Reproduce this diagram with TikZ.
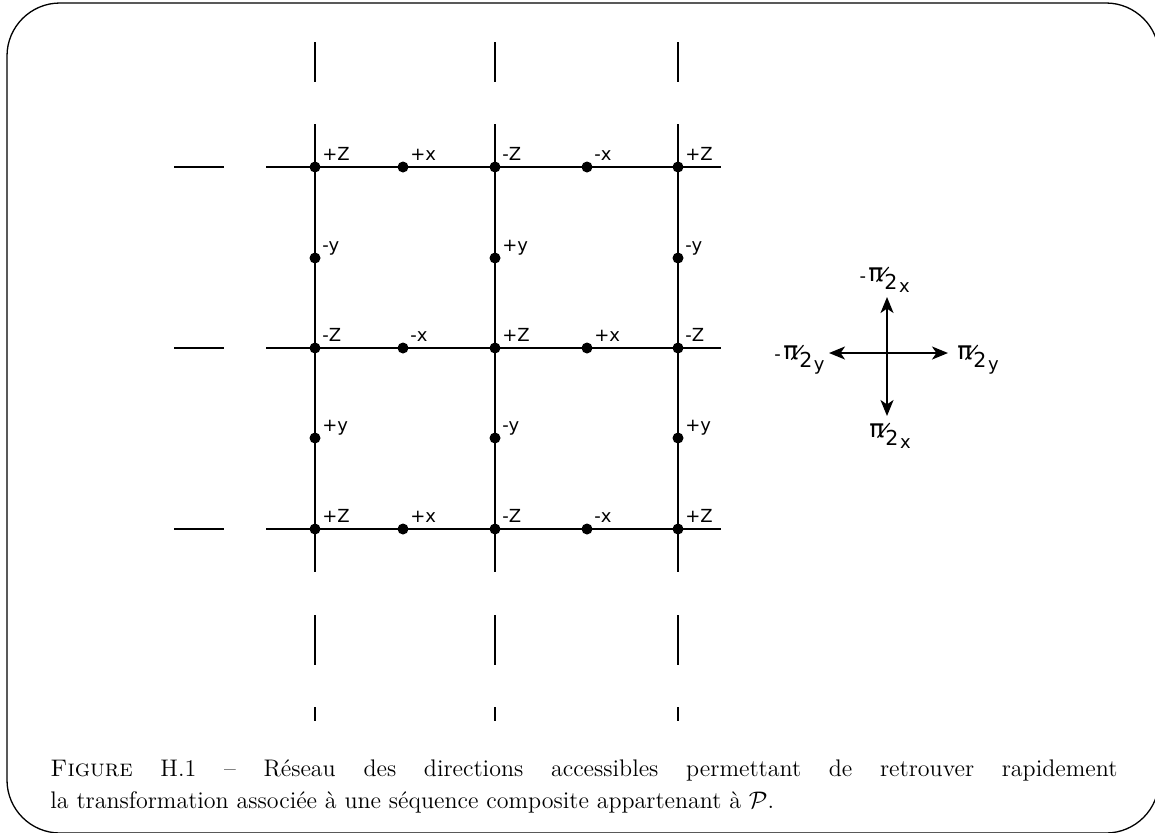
\documentclass[tikz,border=0pt]{standalone}
\usepackage{fontspec}
\usepackage{graphicx}
\newfontfamily\labfont{DejaVu Sans}
\usetikzlibrary{arrows.meta}
\newcommand{\pitwo}[1]{%
  \makebox[0pt][l]{\raisebox{4pt}{\fontsize{12.5}{12.5}\selectfont π}}%
  \makebox[0pt][l]{\hspace{3.8pt}\raisebox{3.5pt}{\rotatebox{50}{\rule{9.5pt}{0.6pt}}}}%
  \hspace{8pt}{\fontsize{10.3}{10.3}\selectfont 2}%
  \hspace{0.8pt}\raisebox{-1.5pt}{\fontsize{9}{9}\selectfont #1}}
\newcommand{\mpitwo}[1]{%
  \llap{\raisebox{3.5pt}{\fontsize{9}{9}\selectfont -}\hspace{1.2pt}}\pitwo{#1}}
\tikzset{
  gridline/.style={line width=1pt},
  dot/.style={circle, fill=black, inner sep=0pt, minimum size=5.5pt},
  lab/.style={anchor=base west, inner sep=0pt, font=\labfont\fontsize{9}{9}\selectfont},
  pilab/.style={inner sep=0pt, font=\labfont},
  arr/.style={line width=1pt, -{Stealth[length=8pt,width=6.5pt,inset=2.2pt]}},
  frame/.style={line width=0.65pt, rounded corners=26.5pt},
  captxt/.style={anchor=base west, inner sep=0pt, font=\fontsize{12}{16}\selectfont},
}
\begin{document}
\begin{tikzpicture}[x=0.5pt,y=-0.5pt]
\useasboundingbox (0,0) rectangle (1155,832);
\clip (0,0) rectangle (1155,832);
\draw[frame] (7,3) rectangle (1159,833);

% grid line end points
\foreach \r/\y in {1/167,2/348,3/529}{
  \coordinate (dL\r) at (174,\y);
  \coordinate (dR\r) at (224,\y);
  \coordinate (hL\r) at (266,\y);
  \coordinate (hR\r) at (721,\y);
}
\foreach \c/\x in {1/315,2/495,3/678}{
  \coordinate (tA\c) at (\x,42);
  \coordinate (tB\c) at (\x,82);
  \coordinate (vT\c) at (\x,124);
  \coordinate (vB\c) at (\x,572);
  \coordinate (bA\c) at (\x,615);
  \coordinate (bB\c) at (\x,665);
  \coordinate (kA\c) at (\x,707);
  \coordinate (kB\c) at (\x,721);
}
\foreach \r in {1,2,3}{
  \draw[gridline] (dL\r) -- (dR\r);
  \draw[gridline] (hL\r) -- (hR\r);
}
\foreach \c in {1,2,3}{
  \draw[gridline] (tA\c) -- (tB\c);
  \draw[gridline] (vT\c) -- (vB\c);
  \draw[gridline] (bA\c) -- (bB\c);
  \draw[gridline] (kA\c) -- (kB\c);
}

% dots and labels
\foreach \n/\x/\y/\t in {
  a1/315/167/+Z, a2/403/167/+x, a3/495/167/-Z, a4/587/167/-x, a5/678/167/+Z,
  b1/315/258/-y, b3/495/258/+y, b5/678/258/-y,
  c1/315/348/-Z, c2/403/348/-x, c3/495/348/+Z, c4/587/348/+x, c5/678/348/-Z,
  d1/315/438/+y, d3/495/438/-y, d5/678/438/+y,
  e1/315/529/+Z, e2/403/529/+x, e3/495/529/-Z, e4/587/529/-x, e5/678/529/+Z}{
  \node[dot] (\n) at (\x,\y) {};
  \node[lab] (l\n) at (\x+7,\y-7) {\t};
}

% direction cross
\coordinate (cc) at (887,353);
\coordinate (cr) at (948,353);
\coordinate (cl) at (829,353);
\coordinate (ct) at (887,297);
\coordinate (cb) at (887,416);
\draw[arr] (cc) -- (cr);
\draw[arr] (cc) -- (cl);
\draw[arr] (cc) -- (ct);
\draw[arr] (cc) -- (cb);
\node[pilab, anchor=base west] (ptop) at (868,289) {\mpitwo{x}};
\node[pilab, anchor=base west] (pbot) at (869,445) {\pitwo{x}};
\node[pilab, anchor=base west] (pright) at (957,367) {\pitwo{y}};
\node[pilab, anchor=base east] (pleft) at (825,367) {\mpitwo{y}};

% caption
\node[captxt] (cap1) at (50,776)
  {\makebox[533.5pt][s]{\textsc{Figure} H.1 – Réseau des directions accessibles permettant de retrouver rapidement}};
\node[captxt] (cap2) at (50,808)
  {la transformation associée à une séquence composite appartenant à $\mathcal{P}$.};
\end{tikzpicture}
\end{document}
